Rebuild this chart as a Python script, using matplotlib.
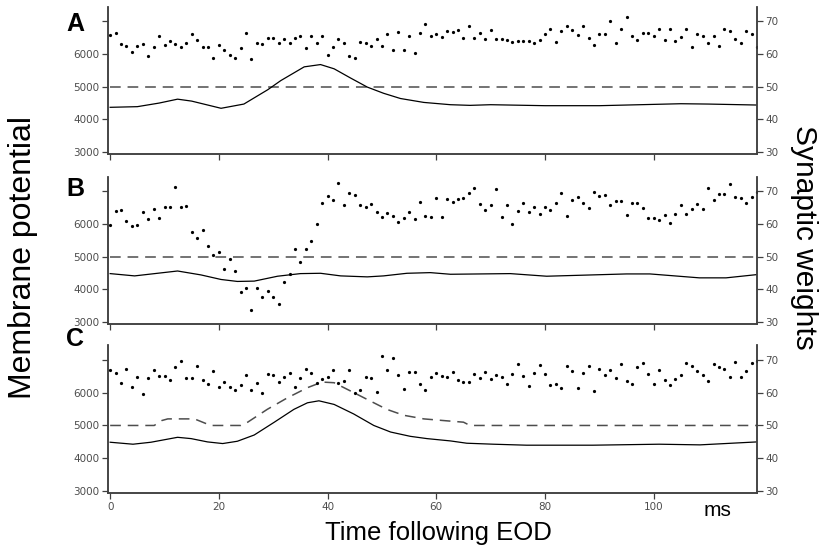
import numpy as np
import matplotlib
matplotlib.use("Agg")
import matplotlib.pyplot as plt

# time axis for synaptic weights (one point per ms)
t_ms = np.arange(120)

# synaptic weights (right axis) per panel
w_a = [65.9, 66.4, 63.0, 62.5, 60.7, 62.4, 63.2, 59.4, 62.2, 65.5,
       62.8, 64.1, 63.2, 62.2, 63.3, 66.3, 64.3, 62.2, 62.2, 58.9,
       62.8, 61.2, 59.6, 58.9, 62.0, 66.6, 58.4, 63.3, 63.0, 64.9,
       64.9, 63.4, 64.7, 63.5, 64.9, 65.5, 61.8, 65.4, 63.5, 65.4,
       59.6, 62.3, 64.5, 63.3, 59.5, 58.9, 63.7, 63.4, 62.6, 64.5,
       62.4, 66.3, 61.3, 66.9, 61.2, 65.7, 60.4, 66.6, 69.1, 65.7,
       66.3, 65.3, 67.1, 66.8, 67.5, 64.8, 68.7, 65.0, 66.6, 64.7,
       67.5, 64.5, 64.5, 64.3, 63.8, 64.0, 64.0, 64.0, 63.5, 64.4,
       66.3, 67.7, 63.6, 67.0, 68.7, 67.5, 65.8, 68.7, 65.0, 62.7,
       66.2, 66.2, 70.1, 63.3, 67.7, 71.3, 65.5, 64.2, 66.6, 66.6,
       65.5, 67.6, 64.3, 67.6, 64.0, 65.2, 67.8, 62.2, 66.3, 65.4,
       63.3, 65.5, 62.6, 67.7, 67.1, 64.7, 63.5, 67.0, 66.3, 62.2]

w_b = [59.6, 64.0, 64.2, 61.0, 59.3, 59.8, 63.8, 61.4, 64.6, 61.8,
       65.2, 65.2, 71.2, 65.3, 65.5, 57.6, 55.8, 58.1, 53.2, 50.6,
       51.3, 46.2, 49.2, 45.6, 39.3, 40.5, 33.7, 40.5, 37.5, 39.6,
       37.7, 35.6, 42.1, 44.6, 52.3, 48.4, 52.3, 54.9, 59.9, 66.3,
       68.5, 67.5, 72.7, 65.7, 69.5, 68.8, 65.7, 65.3, 66.0, 63.8,
       62.2, 63.4, 62.5, 60.7, 61.9, 63.7, 61.4, 66.6, 62.6, 62.2,
       68.0, 62.2, 67.6, 66.8, 67.7, 67.9, 69.6, 70.9, 66.1, 64.4,
       65.8, 70.6, 62.2, 65.7, 60.1, 64.0, 66.3, 63.6, 65.3, 63.2,
       65.3, 64.4, 66.5, 69.4, 62.4, 67.5, 68.2, 66.5, 64.9, 69.9,
       68.6, 69.0, 65.9, 66.9, 67.2, 62.9, 66.5, 66.5, 64.9, 61.8,
       61.7, 61.1, 62.7, 60.4, 63.2, 65.7, 63.2, 64.5, 66.2, 64.6,
       71.1, 67.5, 69.1, 69.1, 72.4, 68.3, 68.1, 66.5, 68.4, 69.7]

w_c = [66.8, 66.0, 62.8, 67.3, 61.8, 64.6, 59.5, 64.4, 66.8, 65.1,
       65.0, 63.9, 67.9, 69.7, 64.4, 64.4, 68.1, 63.9, 62.7, 66.5,
       61.8, 63.1, 61.7, 60.9, 62.2, 65.4, 60.9, 63.0, 59.9, 65.8,
       65.2, 63.3, 64.8, 66.0, 61.7, 64.4, 67.3, 66.1, 63.0, 64.1,
       64.8, 66.9, 63.0, 63.6, 66.8, 59.9, 60.9, 64.6, 64.3, 60.3,
       71.0, 66.8, 70.4, 65.5, 61.1, 66.3, 66.3, 62.5, 60.9, 64.8,
       65.9, 64.9, 64.8, 66.3, 63.9, 63.2, 63.2, 65.6, 64.5, 66.3,
       64.0, 65.3, 64.6, 62.5, 65.7, 68.8, 65.0, 62.0, 66.0, 68.4,
       65.7, 62.2, 62.6, 61.5, 68.2, 66.6, 61.4, 66.0, 68.2, 60.6,
       67.1, 65.5, 66.9, 64.5, 68.7, 63.6, 62.7, 67.7, 69.1, 65.6,
       62.5, 66.9, 63.9, 62.3, 64.0, 65.3, 69.1, 68.0, 66.7, 65.4,
       63.5, 68.6, 67.9, 67.1, 64.8, 69.3, 64.6, 66.6, 68.9, 69.7]

# membrane potential (left axis), sampled at these times
mp_a_t = [0, 5, 9, 12.4, 15, 20.4, 24.6, 29, 31.4, 35.7, 38.7, 41.2, 44.2, 47.3,
          50.3, 53.4, 57.7, 62.6, 66.2, 70, 80, 90, 100, 105, 110, 119]
mp_a = [4370, 4390, 4500, 4620, 4560, 4340, 4470, 4910, 5190, 5610, 5680, 5550, 5270, 4990,
        4800, 4640, 4520, 4450, 4430, 4450, 4420, 4420, 4460, 4480, 4470, 4440]

mp_b_t = [0, 4.5, 12.4, 16.7, 20.4, 23.4, 26.5, 30.8, 35, 38.7, 42.4, 47.3, 50.3,
          54.6, 58.9, 62.6, 73.6, 80.3, 95, 99.3, 108.4, 113.3, 119]
mp_b = [4480, 4410, 4560, 4440, 4300, 4240, 4250, 4400, 4480, 4490, 4410, 4380, 4410,
        4490, 4510, 4460, 4480, 4400, 4470, 4470, 4350, 4350, 4450]

mp_c_t = [0, 4.2, 7.5, 12.4, 14.9, 17.9, 20.7, 23.4, 26.5, 30.2, 33.8, 36.3, 38.4, 41.2,
          44.8, 48.5, 51.6, 55.2, 58.3, 62.6, 65.6, 70.5, 76.6, 88.8, 101, 108.5, 119]
mp_c = [4490, 4430, 4490, 4640, 4600, 4500, 4450, 4520, 4710, 5100, 5490, 5690, 5750, 5640,
        5350, 5000, 4800, 4670, 4600, 4530, 4460, 4430, 4400, 4400, 4430, 4410, 4500]

# threshold (dashed)
thr_ab_t = [0, 119]
thr_ab = [5000, 5000]
thr_c_t = [0, 8.1, 9.5, 10.6, 15.5, 18.5, 24, 25.3, 28.9, 32.6, 36.3, 39, 41.2, 44.8,
           48.5, 50.9, 54, 57.7, 62, 65, 66.2, 119]
thr_c = [5000, 5000, 5150, 5200, 5200, 5000, 5000, 5100, 5490, 5840, 6150, 6320, 6300, 6000,
         5690, 5490, 5310, 5200, 5140, 5100, 5000, 5000]

panels = [
    ("A", w_a, mp_a_t, mp_a, thr_ab_t, thr_ab),
    ("B", w_b, mp_b_t, mp_b, thr_ab_t, thr_ab),
    ("C", w_c, mp_c_t, mp_c, thr_c_t, thr_c),
]

big = "Liberation Sans"
spine_col = "0.25"
tick_col = "0.3"

fig = plt.figure(figsize=(8.25, 5.48), dpi=100)
boxes = [(0.719, 0.268), (0.409, 0.268), (0.100, 0.270)]
letter_y = [0.956, 0.655, 0.381]

for i, (letter, w, mt, mv, tt, tv) in enumerate(panels):
    bottom, height = boxes[i]
    ax = fig.add_axes([0.1309, bottom, 0.7867, height])
    ax2 = ax.twinx()

    ax.plot(tt, tv, color="0.3", lw=1.1, dashes=(7, 4.5))
    ax.plot(mt, mv, color="black", lw=0.9)
    ax2.plot(t_ms, w, ".", color="black", ms=2.6)

    ax.set_xlim(-0.4, 119)
    ax.set_ylim(2940, 7440)
    ax2.set_ylim(29.4, 74.4)

    ax.set_yticks([3000, 4000, 5000, 6000, 7000])
    ax.set_yticklabels(["3000", "4000", "5000", "6000", ""])
    ax2.set_yticks([30, 40, 50, 60, 70])
    ax.set_xticks([0, 20, 40, 60, 80, 100])
    if i < 2:
        ax.set_xticklabels([])

    for a in (ax, ax2):
        a.spines["top"].set_visible(False)
        for s in ("left", "right", "bottom"):
            a.spines[s].set_color(spine_col)
            a.spines[s].set_linewidth(1.1)
        a.tick_params(colors=spine_col, labelcolor=tick_col, labelsize=7.5,
                      length=4, width=0.9, pad=2)

    fig.text(0.080, letter_y[i], letter, fontsize=18, fontweight="bold",
             family=big, ha="left", va="center")

fig.text(0.028, 0.53, "Membrane potential", rotation=90, fontsize=23, family=big,
         ha="center", va="center")
fig.text(0.974, 0.567, "Synaptic weights", rotation=-90, fontsize=21.5, family=big,
         ha="center", va="center")
fig.text(0.531, 0.027, "Time following EOD", fontsize=18.5, family=big,
         ha="center", va="center")
fig.text(0.870, 0.069, "ms", fontsize=15, family=big, ha="center", va="center")

fig.savefig("out.png", dpi=100)
